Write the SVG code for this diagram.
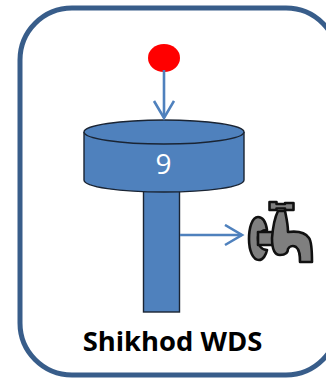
<svg xmlns="http://www.w3.org/2000/svg" width="326" height="379" viewBox="0 0 326 379">
<style>
.t{fill:#4f81bd;stroke:#1a2433;stroke-width:1.4}
.c{fill:none;stroke:#4f81bd;stroke-width:2.6}
.f{fill:#7f7f7f;stroke:#111;stroke-width:2.6;stroke-linejoin:round}
</style>
<defs><marker id="a" markerUnits="userSpaceOnUse" markerWidth="24" markerHeight="24" refX="19" refY="11" orient="auto"><path d="M2 1L19 11L2 21" fill="none" stroke="#4f81bd" stroke-width="2.6"/></marker></defs>
<rect id="frame" x="20" y="8" width="318" height="367" rx="52" fill="#fff" stroke="#385d8a" stroke-width="5"/>
<g id="tank"><rect class="t" x="143.500" y="190" width="36" height="122"/>
<path class="t" d="M84 132V180C84 187 120 192 164 192S244 187 244 180V132"/>
<ellipse class="t" cx="164" cy="132" rx="80" ry="12"/>
<text x="163.500" y="173.500" font-family="'Open Sans',sans-serif" font-size="28" fill="#fff" text-anchor="middle">9</text></g>
<g id="source"><ellipse cx="164" cy="58" rx="16" ry="14" fill="#f00"/></g>
<g id="connectors"><path class="c" d="M164 70V118" marker-end="url(#a)"/><path class="c" d="M180 235H242" marker-end="url(#a)"/></g>
<g id="tap">
<path class="f" d="M258 217C252 217 249 228 249 239C249 251 253 260 259 260C263 260 266 255 267 250C262 250 258 246 258 238C258 233 262 230 267 230C266 223 263 217 258 217Z"/>
<path class="f" d="M258 232H274V245H258Z"/>
<path class="f" d="M272 238C273 226 275 217 278 211H285C286 216 288 224 288 232C296 231 305 232 309 238C312 242 312 255 312 262H300C300 256 300 250 296 247C292 245 289 247 288 249C288 253 285 255 280 255C275 255 272 250 272 238Z"/>
<path class="f" d="M269.500 202H276.500V204H285V203H293.500V210H285V208.500H276.500V210H269.500Z"/>
</g>
<text id="label" x="172.500" y="351" font-family="'Open Sans',sans-serif" font-weight="700" font-size="27.400" fill="#000" text-anchor="middle">Shikhod WDS</text>
</svg>
